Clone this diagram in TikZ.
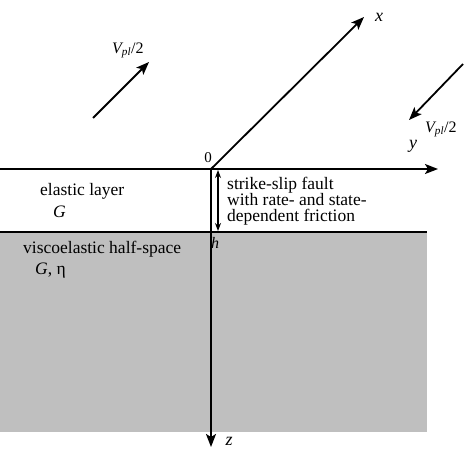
\documentclass[tikz,border=0pt]{standalone}
\usepackage{fontspec}
\setmainfont{Liberation Serif}
\usetikzlibrary{arrows.meta}
\begin{document}
\begin{tikzpicture}[x=1pt,y=-1pt,
  ax/.style={line width=1.8pt,-{Stealth[length=13pt,width=10pt,inset=3pt]}},
  lbl/.style={inner sep=0pt,font=\fontsize{17.5}{16}\selectfont},
  ilbl/.style={inner sep=0pt,font=\fontsize{18}{18}\selectfont\itshape}]
\useasboundingbox (0,0) rectangle (465,452);
\fill[gray!50] (0,232) rectangle (427,432);
\draw[line width=1.8pt] (0,232) -- (427,232);
\coordinate (O) at (211,169);
\coordinate (L) at (0,169);
\coordinate (Y) at (438,169);
\coordinate (X) at (364,17);
\coordinate (Z) at (211,447);
\draw[ax] (L) -- (Y);
\draw[ax] (O) -- (X);
\draw[ax] (O) -- (Z);
\coordinate (h1) at (218,170);
\coordinate (h2) at (218,231);
\draw[line width=1.2pt,{Stealth[length=8pt,width=6pt]}-{Stealth[length=8pt,width=6pt]}] (h1) -- (h2);
\coordinate (v1a) at (93,118);
\coordinate (v1b) at (149,62);
\draw[ax] (v1a) -- (v1b);
\coordinate (v2a) at (463,64);
\coordinate (v2b) at (409,120);
\draw[ax] (v2a) -- (v2b);
\node[ilbl] (xl) at (379,17) {x};
\node[ilbl] (yl) at (413,146) {y};
\node[ilbl] (zl) at (229,441) {z};
\node[lbl,font=\fontsize{15}{16}\selectfont] (zero) at (208,158) {0};
\node[lbl,font=\fontsize{16}{16}\selectfont\itshape] (hl) at (215,243) {h};
\node[lbl,anchor=base west] (v1) at (112,53) {\fontsize{16}{16}\selectfont\itshape V\textsubscript{pl}\upshape/2};
\node[lbl,anchor=base west] (v2) at (425,132) {\fontsize{16}{16}\selectfont\itshape V\textsubscript{pl}\upshape/2};
\node[lbl,anchor=base west] (el) at (40,195) {elastic layer};
\node[lbl,anchor=base west] (g1) at (53,217) {\itshape G};
\node[lbl,anchor=base west] (ve) at (23,253) {viscoelastic half-space};
\node[lbl,anchor=base west] (g2) at (35,274) {\itshape G\upshape, η};
\node[lbl,anchor=base west,align=left] (ff) at (227,221) {strike-slip fault\\with rate- and state-\\dependent friction};
\end{tikzpicture}
\end{document}
